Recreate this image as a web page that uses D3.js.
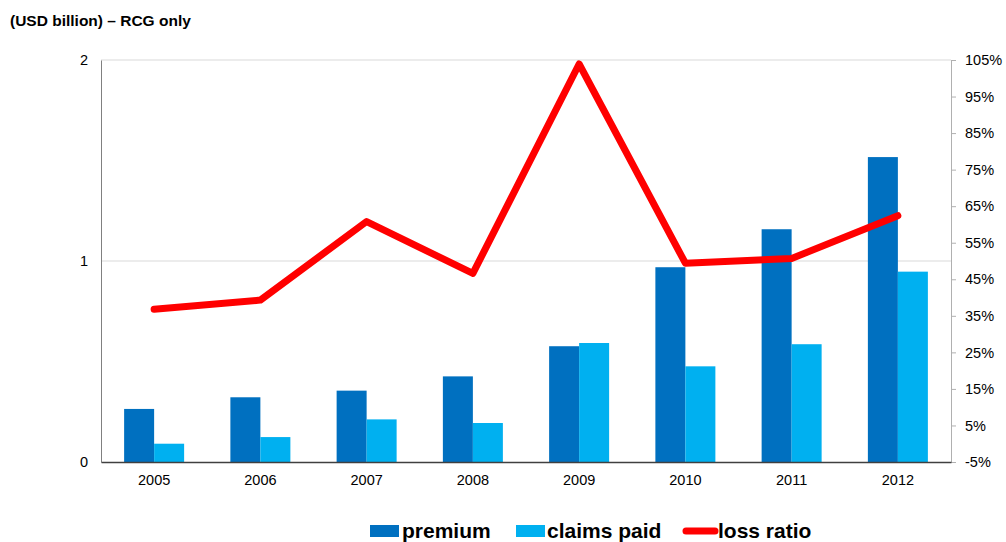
<!DOCTYPE html>
<html><head><meta charset="utf-8">
<script src="https://cdn.jsdelivr.net/npm/d3@7"></script>
<style>body{margin:0;background:#fff;}svg{display:block;font-family:"Liberation Sans",Arial,sans-serif;}</style>
</head><body>
<svg id="c" width="1006" height="542"></svg>
<script>
const years = ["2005","2006","2007","2008","2009","2010","2011","2012"];
const premium = [0.264,0.322,0.355,0.426,0.576,0.969,1.158,1.517];
const claims = [0.091,0.124,0.212,0.194,0.592,0.476,0.586,0.947];
const lossRatio = [36.8,39.3,60.8,46.6,103.9,49.4,50.7,62.4];
const leftTicks = [0,1,2];
const rightTicks = [-5,5,15,25,35,45,55,65,75,85,95,105];

const svg = d3.select("#c");
const L=101, R=951, T=60, B=462;
const FS = 14.5;
const x = d3.scaleBand().domain(years).range([L,R]);
const xs = d3.scaleBand().domain(["p","c"]).range([0,60]);
const y = d3.scaleLinear().domain([0,2]).range([B,T]);
const y2 = d3.scaleLinear().domain([-5,105]).range([B,T]);

// gridlines
svg.append("g").selectAll("line").data(leftTicks.filter(d=>d>0)).join("line")
  .attr("x1",L).attr("x2",R).attr("y1",d=>y(d)).attr("y2",d=>y(d))
  .attr("stroke","#e6e6e6").attr("stroke-width",1.5);

// bars
const g = svg.append("g");
const off = (x.bandwidth()-60)/2;
g.selectAll("rect.p").data(years).join("rect")
  .attr("x",(d)=>x(d)+off+xs("p")).attr("width",xs.bandwidth())
  .attr("y",(d,i)=>y(premium[i])).attr("height",(d,i)=>B-y(premium[i]))
  .attr("fill","#0070c0");
g.selectAll("rect.c").data(years).join("rect")
  .attr("x",(d)=>x(d)+off+xs("c")).attr("width",xs.bandwidth())
  .attr("y",(d,i)=>y(claims[i])).attr("height",(d,i)=>B-y(claims[i]))
  .attr("fill","#00b0f0");

// left axis
const la = svg.append("g").attr("transform",`translate(${L},0)`)
  .call(d3.axisLeft(y).tickValues(leftTicks).tickFormat(d3.format("d")).tickSize(0).tickPadding(13));
la.select(".domain").attr("stroke","#808080");
la.selectAll("text").attr("font-size",FS).attr("fill","#000").attr("font-family","Liberation Sans, Arial, sans-serif");

// right axis
const ra = svg.append("g").attr("transform",`translate(${R},0)`)
  .call(d3.axisRight(y2).tickValues(rightTicks).tickFormat(d=>d+"%").tickSize(5).tickSizeOuter(0).tickPadding(9));
ra.select(".domain").attr("stroke","#b0b0b0");
ra.selectAll(".tick line").attr("stroke","#b0b0b0");
ra.selectAll("text").attr("font-size",FS).attr("fill","#000").attr("font-family","Liberation Sans, Arial, sans-serif");

// x axis
const xa = svg.append("g").attr("transform",`translate(0,${B})`)
  .call(d3.axisBottom(x).tickSize(0).tickPadding(13).tickSizeOuter(0));
xa.select(".domain").attr("stroke","#404040").attr("stroke-width",1.5);
xa.selectAll("text").attr("font-size",FS).attr("fill","#000").attr("font-family","Liberation Sans, Arial, sans-serif");

// line
const line = d3.line().x((d,i)=>x(years[i])+x.bandwidth()/2).y(d=>y2(d));
svg.append("path").datum(lossRatio).attr("d",line)
  .attr("fill","none").attr("stroke","#ff0000").attr("stroke-width",7)
  .attr("stroke-linejoin","round").attr("stroke-linecap","round");

// title
svg.append("text").attr("x",10).attr("y",26).attr("font-size",15.5).attr("font-weight","bold")
  .text("(USD billion) \u2013 RCG only");

// legend
const lg = svg.append("g").attr("font-size",21).attr("font-weight","bold");
lg.append("rect").attr("x",370).attr("y",525).attr("width",29).attr("height",12).attr("fill","#0070c0");
lg.append("text").attr("x",402).attr("y",538).text("premium");
lg.append("rect").attr("x",516).attr("y",525).attr("width",29).attr("height",12).attr("fill","#00b0f0");
lg.append("text").attr("x",547).attr("y",538).text("claims paid");
lg.append("line").attr("x1",686).attr("x2",715).attr("y1",531).attr("y2",531)
  .attr("stroke","#ff0000").attr("stroke-width",7).attr("stroke-linecap","round");
lg.append("text").attr("x",718).attr("y",538).text("loss ratio");
</script>
</body></html>
